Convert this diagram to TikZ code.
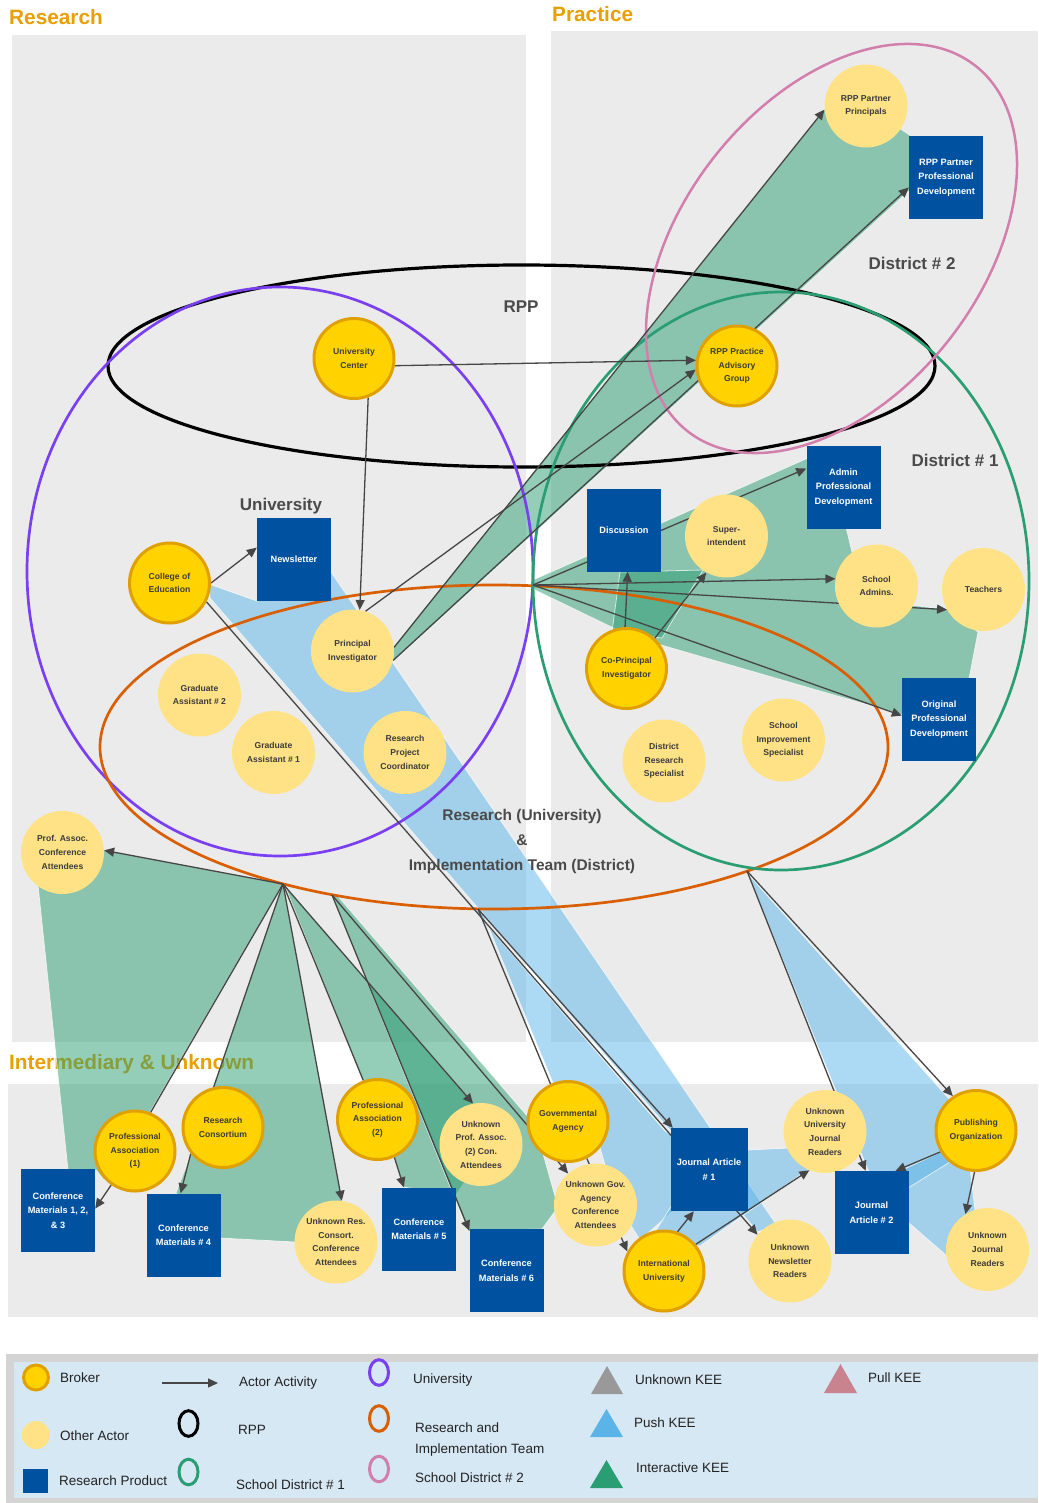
\documentclass[tikz,border=0pt]{standalone}
\usepackage{fontspec}
\setmainfont{Liberation Sans}
\usetikzlibrary{arrows.meta}
\pgfdeclarelayer{bg}
\pgfdeclarelayer{edges}
\pgfsetlayers{bg,edges,main}
\definecolor{panel}{HTML}{EBEBEB}
\definecolor{headorange}{HTML}{E8A000}
\definecolor{brokerfill}{HTML}{FFD200}
\definecolor{brokerline}{HTML}{E0A000}
\definecolor{actorfill}{HTML}{FFE285}
\definecolor{prodblue}{HTML}{0052A0}
\definecolor{nodetext}{HTML}{3C3C3C}
\definecolor{labeltext}{HTML}{4A4A4A}
\definecolor{legendtext}{HTML}{222222}
\definecolor{arrowgray}{HTML}{464646}
\definecolor{keegreen}{HTML}{2A9D72}
\definecolor{keeblue}{HTML}{5AB4E8}
\definecolor{keegray}{HTML}{999999}
\definecolor{keepink}{HTML}{C9838F}
\definecolor{univpurple}{HTML}{7B3FF2}
\definecolor{teamorange}{HTML}{D95F02}
\definecolor{distgreen}{HTML}{2A9D73}
\definecolor{distpink}{HTML}{D27FAE}
\definecolor{legendbg}{HTML}{D6E8F4}
\definecolor{legendborder}{HTML}{D4D4D4}
\newcommand\fnode{\fontsize{8.6}{13.7}\selectfont\bfseries}
\newcommand\fprod{\fontsize{9.2}{14.5}\selectfont\bfseries}
\newcommand\flabel{\fontsize{17}{20}\selectfont\bfseries}
\newcommand\fteam{\fontsize{15.5}{25}\selectfont\bfseries}
\newcommand\fhead{\fontsize{20.8}{24}\selectfont\bfseries}
\newcommand\flegend{\fontsize{13.5}{20}\selectfont}
\begin{document}
\begin{tikzpicture}[x=1pt,y=-1pt,
  broker/.style={circle, fill=brokerfill, draw=brokerline, line width=3pt, minimum size=80pt, inner sep=0pt, align=center, font=\fnode, text=nodetext},
  actor/.style={circle, fill=actorfill, minimum size=83pt, inner sep=0pt, align=center, font=\fnode, text=nodetext},
  product/.style={rectangle, fill=prodblue, minimum width=74pt, minimum height=83pt, inner sep=0pt, align=center, font=\fprod, text=white},
  act/.style={draw=arrowgray, line width=1.3pt, -{Triangle[length=10pt,width=9pt]}},
  link/.style={draw=arrowgray, line width=1.3pt},
  kgreen/.style={fill=keegreen, fill opacity=0.5, draw=white, draw opacity=0.7, line width=0.8pt},
  kblue/.style={fill=keeblue, fill opacity=0.5, draw=white, draw opacity=0.7, line width=0.8pt},
  biglabel/.style={font=\flabel, text=labeltext, inner sep=0pt},
  heading/.style={font=\fhead, text=headorange, inner sep=0pt, anchor=west},
  legtext/.style={font=\flegend, text=legendtext, inner sep=0pt, anchor=west, align=left},
]
\useasboundingbox (0,0) rectangle (1038,1503);

% ---------- nodes (main layer) ----------
\node[broker] (unicenter) at (354,358.5) {University\\Center};
\node[broker] (rppadv) at (737,366) {RPP Practice\\Advisory\\Group};
\node[actor] (rppprin) at (866,106) {RPP Partner\\Principals};
\node[product] (rpppd) at (946,177.5) {RPP Partner\\Professional\\Development};
\node[broker] (coe) at (169.5,583) {College of\\Education};
\node[product] (newsletter) at (294,559) {Newsletter};
\node[actor] (pi) at (352.5,651) {Principal\\Investigator};
\node[actor] (ga2) at (199.5,695) {Graduate\\Assistant \# 2};
\node[actor] (ga1) at (273.5,752.5) {Graduate\\Assistant \# 1};
\node[actor] (rpc) at (405,752.5) {Research\\Project\\Coordinator};
\node[product] (discussion) at (624,530) {Discussion};
\node[actor] (superint) at (726.5,536) {Super-\\intendent};
\node[product] (adminpd) at (843.5,487.5) {Admin\\Professional\\Development};
\node[actor] (schadm) at (876.5,586) {School\\Admins.};
\node[actor] (teachers) at (983.5,589.5) {Teachers};
\node[broker] (copi) at (626.5,668.5) {Co-Principal\\Investigator};
\node[actor] (drs) at (664,761) {District\\Research\\Specialist};
\node[actor] (sis) at (783.5,740) {School\\Improvement\\Specialist};
\node[product] (opd) at (939,719.5) {Original\\Professional\\Development};
\node[actor] (paca) at (62.5,852.5) {Prof. Assoc.\\Conference\\Attendees};
\node[broker] (pa1) at (135,1151) {Professional\\Association\\(1)};
\node[broker] (rc) at (223,1127.5) {Research\\Consortium};
\node[product] (cm123) at (58,1210.5) {Conference\\Materials 1, 2,\\\& 3};
\node[product] (cm4) at (183.5,1235) {Conference\\Materials \# 4};
\node[actor] (urcca) at (336,1242) {Unknown Res.\\Consort.\\Conference\\Attendees};
\node[broker] (pa2) at (377.5,1119.5) {Professional\\Association\\(2)};
\node[product] (cm5) at (419,1229) {Conference\\Materials \# 5};
\node[actor] (upa2ca) at (481,1144.5) {Unknown\\Prof. Assoc.\\(2) Con.\\Attendees};
\node[product] (cm6) at (506.5,1270.5) {Conference\\Materials \# 6};
\node[broker] (gov) at (568,1121.5) {Governmental\\Agency};
\node[actor] (ugaa) at (595.5,1205) {Unknown Gov.\\Agency\\Conference\\Attendees};
\node[broker] (intu) at (664,1271) {International\\University};
\node[product, minimum width=77pt] (ja1) at (709,1169.5) {Journal Article\\\# 1};
\node[actor] (unr) at (790,1261) {Unknown\\Newsletter\\Readers};
\node[actor] (uujr) at (825,1131.5) {Unknown\\University\\Journal\\Readers};
\node[product] (ja2) at (871.5,1212.5) {Journal\\Article \# 2};
\node[broker] (puborg) at (976,1130.5) {Publishing\\Organization};
\node[actor] (ujr) at (987.5,1249.5) {Unknown\\Journal\\Readers};

% hubs on the team ellipse
\coordinate (hub1) at (533,585);
\coordinate (hub2) at (478,909);
\coordinate (hub3) at (283,884);
\coordinate (hub4) at (332,895);
\coordinate (hub5) at (747,871);

% ---------- background layer ----------
\begin{pgfonlayer}{bg}
\fill[white] (0,0) rectangle (1038,1503);
\fill[panel] (12,35) rectangle (526,1042);
\fill[panel] (551,31) rectangle (1038,1042);
\fill[panel] (8,1084) rectangle (1038,1317);
\node[heading] (hres) at (9,17) {Research};
\node[heading] (hprac) at (552,14) {Practice};
\node[heading] (hint) at (9,1064) {Intermediary \& Unknown};

% KEE polygons
\fill[kgreen] (393,647) -- (829,104) -- (866,106) -- (911,136) -- (911,189) -- (393,662) -- cycle;
\fill[kgreen] (533,580) -- (808,458) -- (875,470) -- (846,527) -- (855,565) -- (910,605) -- (950,610) -- (978,632) -- (968,684) -- (945,700) -- (903,715) -- (630,636) -- (533,589) -- cycle;
\fill[kgreen] (612,632) -- (620,572) -- (703,570) -- (662,638) -- cycle;
\fill[kgreen] (283,884) -- (104,850) -- (38,885) -- (68,1170) -- (96,1170) -- (104,1180) -- (150,1112) -- cycle;
\fill[kgreen] (283,884) -- (213,1087) -- (191,1154) -- (176,1193) -- (220,1238) -- (295,1242) -- (342,1201) -- cycle;
\fill[kgreen] (285,886) -- (363,1081) -- (394,1157) -- (403,1187) -- (456,1195) -- (466,1180) -- (473,1104) -- cycle;
\fill[kgreen] (332,895) -- (468,1231) -- (542,1229) -- (558,1207) -- (535,1125) -- (336,894) -- cycle;
\fill[kblue] (209,584) -- (257,601) -- (300,590) -- (331,572) -- (776,1224) -- (758,1232) -- (210,598) -- cycle;
\fill[kblue] (481,909) -- (553,1083) -- (595,1130) -- (615,1200) -- (640,1240) -- (672,1212) -- (672,1135) -- (665,1131) -- (475,911) -- cycle;
\fill[kblue] (748,874) -- (868,1170) -- (905,1205) -- (909,1223) -- (947,1256) -- (975,1210) -- (970,1168) -- (950,1100) -- cycle;
\fill[kblue] (650,1240) -- (672,1205) -- (748,1150) -- (790,1148) -- (810,1168) -- (700,1246) -- cycle;
\fill[kblue] (900,1171) -- (945,1150) -- (950,1162) -- (908,1188) -- cycle;

% group ellipses
\draw[black, line width=3.2pt] (521.5,366) ellipse [x radius=413.5, y radius=101];
\draw[univpurple, line width=2.7pt] (280,571.5) ellipse [x radius=253, y radius=284.5];
\draw[teamorange, line width=2.7pt] (494,747) ellipse [x radius=394, y radius=162];
\draw[distgreen, line width=2.7pt] (781,581) ellipse [x radius=248, y radius=289];
\draw[distpink, line width=2.5pt, rotate around={51.7:(831.5,248.5)}] (831.5,248.5) ellipse [x radius=232.6, y radius=148.8];
\end{pgfonlayer}

% ---------- connectors ----------
\begin{pgfonlayer}{edges}
\draw[act] (unicenter.-10) -- (rppadv.172);
\draw[act] (unicenter.-70) -- (pi.80);
\draw[act] (coe.east) -- (newsletter.163);
\draw[act] (pi.72) -- (rppadv.185);
\draw[act] (pi.5) -- (rppprin.185);
\draw[act] (pi.-13) -- (rpppd.195);
\draw[act] (hub1) -- (adminpd.153);
\draw[act] (hub1) -- (schadm.170);
\draw[act] (hub1) -- (teachers.209);
\draw[act] (hub1) -- (opd.174);
\draw[act] (copi.92) -- (discussion.-85);
\draw[act] (copi.47) -- (superint.241);
\draw[act] (hub3) -- (paca.3);
\draw[link] (hub3) -- (pa1.68);
\draw[link] (hub3) -- (rc.103);
\draw[act] (hub3) -- (urcca.82);
\draw[link] (hub3) -- (pa2.110);
\draw[act] (hub3) -- (upa2ca.101);
\draw[act] (hub4) -- (cm6.133);
\draw[act] (hub4) -- (ugaa.131);
\draw[act] (pa1.-125) -- (cm123.3);
\draw[act] (rc.-141) -- (cm4.94);
\draw[act] (pa2.-66) -- (cm5.110);
\draw[link] (hub2) -- (gov.115);
\draw[act] (hub2) -- (ja1.131);
\draw[act] (gov.-63) -- (intu.152);
\draw[act] (coe.-27) -- (unr.141);
\draw[act] (hub5) -- (ja2.98);
\draw[act] (hub5) -- (puborg.124);
\draw[act] (puborg.211) -- (ja2.60);
\draw[act] (puborg.-92) -- (ujr.122);
\draw[act] (intu.71) -- (ja1.-110);
\draw[act] (intu.40) -- (uujr.-112);
\end{pgfonlayer}

% ---------- labels ----------
\node[biglabel] (lrpp) at (521,307) {RPP};
\node[biglabel] (luniv) at (281,506) {University};
\node[biglabel] (ldist2) at (912,263) {District \# 2};
\node[biglabel] (ldist1) at (955,460) {District \# 1};
\node[font=\fteam, text=labeltext, inner sep=0pt, align=center] (lteam) at (522,841) {Research (University)\\\&\\Implementation Team (District)};

% ---------- legend ----------
\fill[legendborder] (6,1354) rectangle (1038,1503);
\fill[legendbg] (14,1362) rectangle (1038,1498);
\node[circle, fill=brokerfill, draw=brokerline, line width=3pt, minimum size=25pt, inner sep=0pt] (lgbroker) at (36,1377.5) {};
\node[circle, fill=actorfill, minimum size=28pt, inner sep=0pt] (lgactor) at (36,1435) {};
\node[rectangle, fill=prodblue, minimum width=25pt, minimum height=24pt, inner sep=0pt] (lgprod) at (35.5,1481) {};
\coordinate (lga1) at (162,1383);
\coordinate (lga2) at (218,1383);
\draw[act] (lga1) -- (lga2);
\draw[black, line width=3pt] (188.5,1423.5) ellipse [x radius=9.5, y radius=12.8];
\draw[distgreen, line width=3pt] (188.5,1472) ellipse [x radius=9.5, y radius=12.8];
\draw[univpurple, line width=3pt] (379,1372.5) ellipse [x radius=9.5, y radius=12.8];
\draw[teamorange, line width=3pt] (379,1418.5) ellipse [x radius=9.5, y radius=12.8];
\draw[distpink, line width=3pt] (379,1469) ellipse [x radius=9.5, y radius=12.8];
\fill[keegray] (591,1394) -- (623,1394) -- (607,1366) -- cycle;
\fill[keeblue] (590,1437) -- (623,1437) -- (606.5,1409) -- cycle;
\fill[keegreen] (590,1488) -- (623,1488) -- (606.5,1460) -- cycle;
\fill[keepink] (824,1393) -- (857,1393) -- (840.5,1364) -- cycle;
\node[legtext] (tbroker) at (60,1378) {Broker};
\node[legtext] (tother) at (60,1436) {Other Actor};
\node[legtext] (tprod) at (59,1481) {Research Product};
\node[legtext] (tact) at (239,1383) {Actor Activity};
\node[legtext] (trpp) at (238,1430) {RPP};
\node[legtext] (tsd1) at (236,1485) {School District \# 1};
\node[legtext] (tuniv) at (413,1380) {University};
\node[legtext] (tteam) at (415,1439) {Research and\\[1pt]Implementation Team};
\node[legtext] (tsd2) at (415,1478) {School District \# 2};
\node[legtext] (tunk) at (635,1380) {Unknown KEE};
\node[legtext] (tpush) at (634,1423) {Push KEE};
\node[legtext] (tinter) at (636,1468) {Interactive KEE};
\node[legtext] (tpull) at (868,1378) {Pull KEE};
\end{tikzpicture}
\end{document}
